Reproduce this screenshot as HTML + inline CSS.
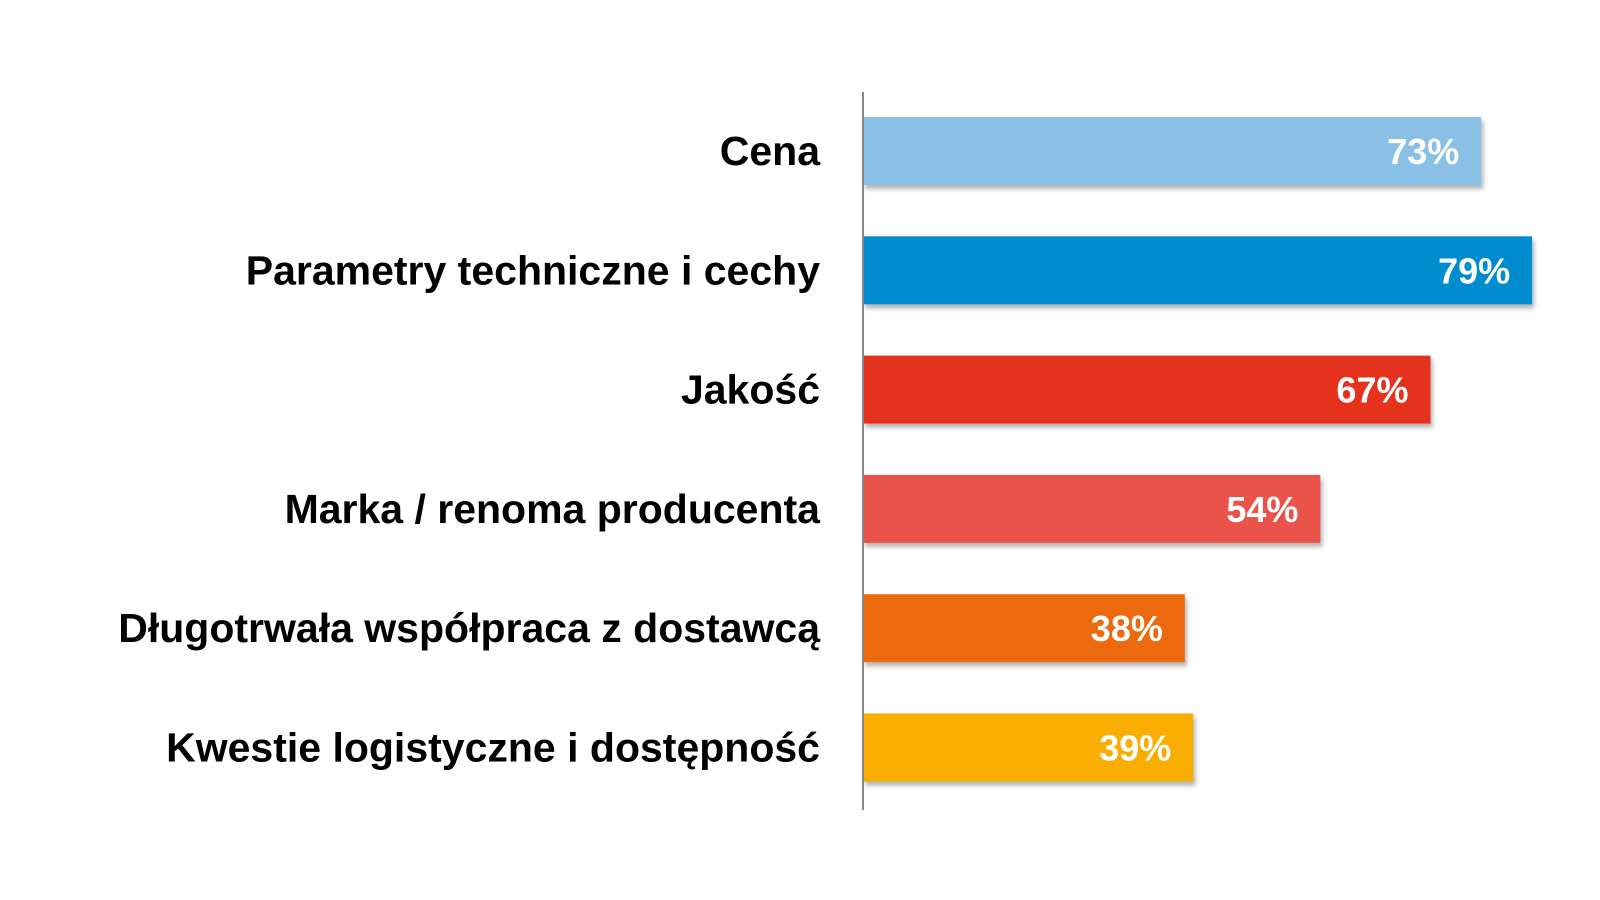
<!DOCTYPE html>
<html><head><meta charset="utf-8"><style>
html,body{margin:0;padding:0;background:#fff;}
svg{display:block;}
</style></head><body>
<svg id="chart" width="1600" height="900" viewBox="0 0 1600 900" xmlns="http://www.w3.org/2000/svg">
<defs>
<filter id="sh" x="-5%" y="-20%" width="110%" height="150%">
<feDropShadow dx="2" dy="4" stdDeviation="2.5" flood-color="#000" flood-opacity="0.3"/>
</filter>
</defs>
<g id="bars"></g>
<line x1="863" y1="92" x2="863" y2="810" stroke="#888" stroke-width="2"/>
</svg>
<script>
const categories = ["Cena","Parametry techniczne i cechy","Jakość","Marka / renoma producenta","Długotrwała współpraca z dostawcą","Kwestie logistyczne i dostępność"];
const values = [73,79,67,54,38,39];
const valueLabels = ["73%","79%","67%","54%","38%","39%"];
const colors = ["#8bc0e6","#048dcf","#e5331f","#ea5349","#ec6b10","#f8ad00"];

const ns = "http://www.w3.org/2000/svg";
const g = document.getElementById('bars');
const x0 = 863, pxPerPct = 8.47;
const xScale = v => x0 + v * pxPerPct;
const yTop = i => 117 + i * 119.3;
const barH = 68;
categories.forEach((c, i) => {
  const r = document.createElementNS(ns, 'rect');
  
  
  r.setAttribute('x', x0);
  r.setAttribute('y', yTop(i));
  r.setAttribute('width', xScale(values[i]) - x0);
  r.setAttribute('height', barH);
  r.setAttribute('fill', colors[i]);
  r.setAttribute('filter', 'url(#sh)');
  g.appendChild(r);
  const t = document.createElementNS(ns, 'text');
  
  
  t.setAttribute('x', 820);
  t.setAttribute('y', yTop(i) + barH/2 + 14);
  t.setAttribute('text-anchor', 'end');
  t.setAttribute('font-family', 'Liberation Sans, Arial, sans-serif');
  t.setAttribute('font-weight', 'bold');
  t.setAttribute('font-size', '41');
  t.setAttribute('fill', '#000');
  t.textContent = c;
  g.appendChild(t);
  const v = document.createElementNS(ns, 'text');
  
  
  v.setAttribute('x', xScale(values[i]) - 22);
  v.setAttribute('y', yTop(i) + barH/2 + 13);
  v.setAttribute('text-anchor', 'end');
  v.setAttribute('font-family', 'Liberation Sans, Arial, sans-serif');
  v.setAttribute('font-weight', 'bold');
  v.setAttribute('font-size', '36');
  v.setAttribute('fill', '#fff');
  v.textContent = valueLabels[i];
  g.appendChild(v);
});
</script>
</body></html>
